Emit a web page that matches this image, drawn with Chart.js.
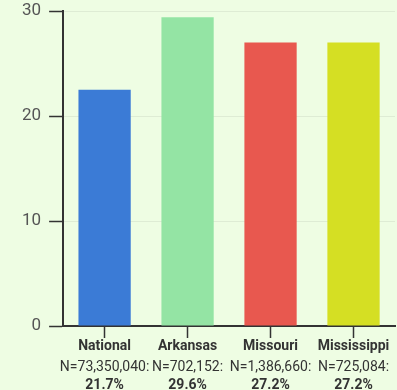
<!DOCTYPE html>
<html>
<head>
<meta charset="utf-8">
<script src="https://cdn.jsdelivr.net/npm/chart.js@4"></script>
<style>
  html, body { margin: 0; padding: 0; background: #eefde3; }
  #wrap { width: 397px; height: 390px; }
</style>
</head>
<body>
<div id="wrap"><canvas id="myChart" width="397" height="390"></canvas></div>
<script>
const categories = ['National', 'Arkansas', 'Missouri', 'Mississippi']
const sampleSizes = ['N=73,350,040:', 'N=702,152:', 'N=1,386,660:', 'N=725,084:']
const percentLabels = ['21.7%', '29.6%', '27.2%', '27.2%']
const values = [22.5, 29.4, 27.0, 27.0]
const yTicks = [0, 10, 20, 30]

const barColors = ['#3b7bd6', '#94e4a4', '#e8584f', '#d5df23']

// draws the three line category labels (bold / normal / bold)
const xLabels = {
    id: 'xLabels',
    afterDraw(chart) {
        const ctx = chart.ctx
        const scale = chart.scales.x
        const axisY = scale.top
        ctx.save()
        ctx.fillStyle = '#333'
        ctx.textAlign = 'center'
        ctx.textBaseline = 'middle'
        categories.forEach((cat, i) => {
            const x = scale.getPixelForValue(i)
            const rows = [
                [cat, 'bold 14px Roboto', 20],
                [sampleSizes[i], '14px Roboto', 41],
                [percentLabels[i], 'bold 14px Roboto', 59]
            ]
            rows.forEach(([text, font, dy]) => {
                ctx.font = font
                ctx.fillText(text, x, axisY + dy)
            })
        })
        ctx.restore()
    }
}

new Chart(document.getElementById('myChart'), {
    type: 'bar',
    data: {
        labels: categories,
        datasets: [{
            data: values,
            backgroundColor: barColors,
            borderWidth: 0,
            barPercentage: 0.63,
            categoryPercentage: 1
        }]
    },
    options: {
        responsive: false,
        animation: false,
        layout: { padding: { left: 14, right: 2, top: 11, bottom: 0 } },
        plugins: {
            legend: { display: false },
            tooltip: { enabled: false }
        },
        scales: {
            x: {
                afterFit(s) { s.height = 64 },
                ticks: { display: false },
                grid: {
                    offset: false,
                    drawOnChartArea: false,
                    tickLength: 12,
                    tickColor: '#333',
                    tickWidth: 1.5
                },
                border: { color: '#333', width: 2 }
            },
            y: {
                min: 0,
                max: 30,
                afterBuildTicks(s) { s.ticks = yTicks.map(v => ({ value: v })) },
                afterFit(s) { s.paddingTop = 0; s.paddingBottom = 0 },
                ticks: {
                    font: { family: 'Roboto', size: 17 },
                    color: '#555',
                    padding: 8
                },
                grid: {
                    color: '#deecd4',
                    tickLength: 14,
                    tickColor: '#333',
                    tickWidth: 1.5
                },
                border: { color: '#333', width: 2 }
            }
        }
    },
    plugins: [xLabels]
})
</script>
</body>
</html>
